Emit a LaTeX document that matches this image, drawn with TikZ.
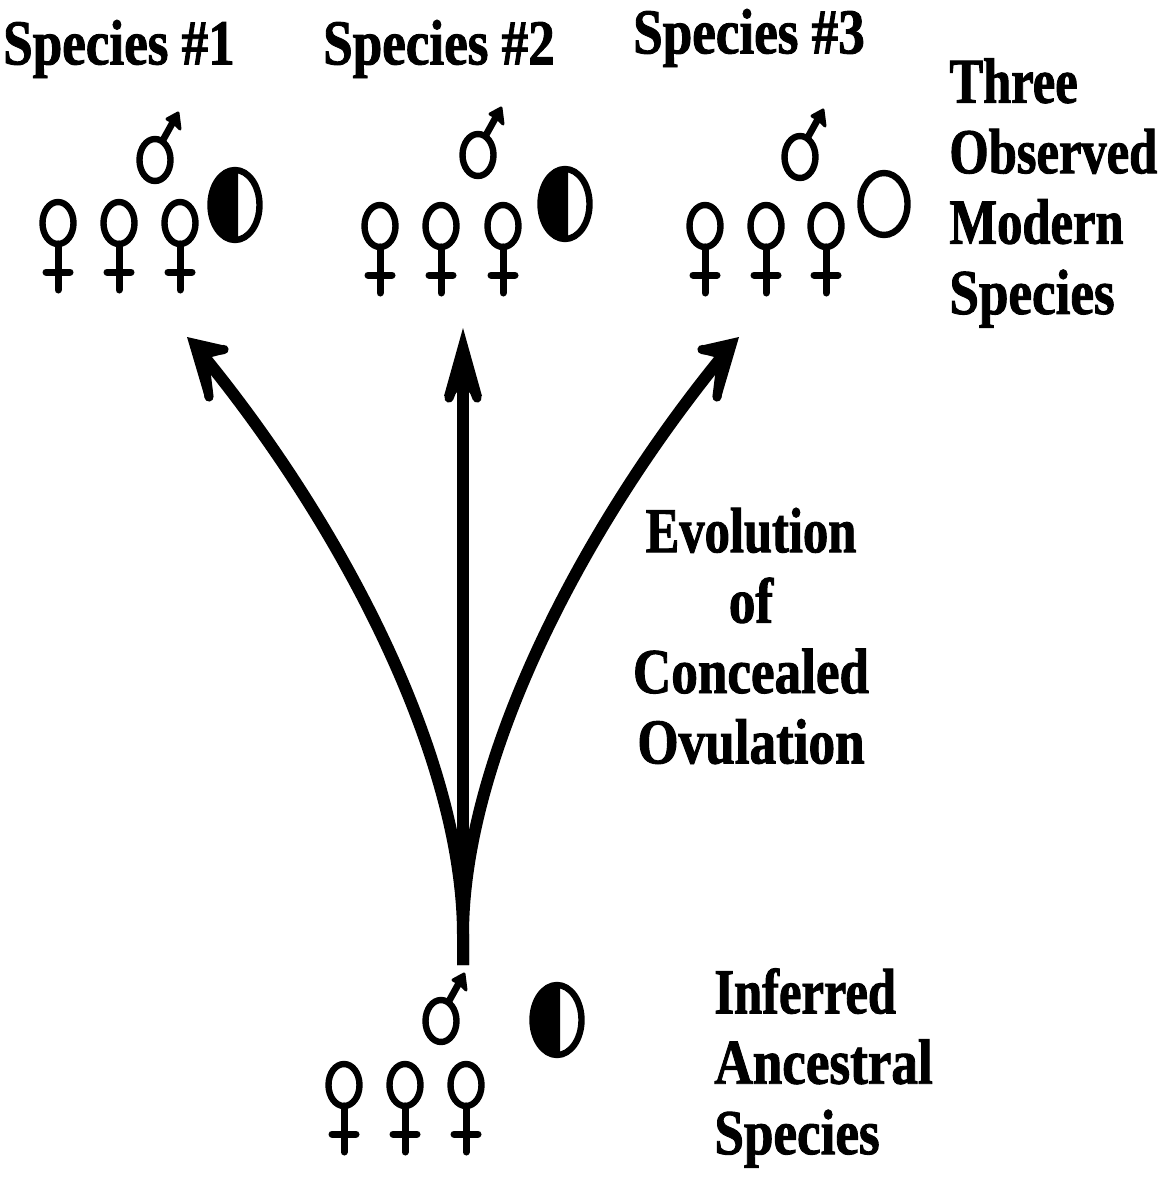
\documentclass[tikz,border=0pt]{standalone}
\usepackage{fontspec}
\setmainfont{Liberation Serif}
\newfontface\labfont[FakeStretch=0.83,FakeBold=1.4]{Liberation Serif Bold}
\newfontface\labnarrow[FakeStretch=0.79,FakeBold=1.4]{Liberation Serif Bold}
\tikzset{
  x=0.5pt,y=-0.5pt,
  lab/.style={font=\labfont\fontsize{32}{35.2}\selectfont,inner sep=0pt,text=black},
  shaft/.style={line width=6pt,draw=black},
  glyphring/.style={draw=black,line width=3.2pt},
  glyphbar/.style={draw=black,line width=3.5pt,line cap=round},
  barb/.style={fill=black,draw=black,line width=1.5pt,line join=round},
  headfill/.style={fill=black},
  headbarb/.style={draw=black,line width=4.6pt,line cap=round},
  pics/female/.style={code={
    \draw[glyphring] (0,0) ellipse [x radius=15.5,y radius=21];
    \draw[glyphbar] (0,21) -- (0,67);
    \draw[glyphbar] (-12,49) -- (12,49);
  }},
  pics/male/.style={code={
    \draw[glyphring] (0,0) ellipse [x radius=15.5,y radius=21];
    \draw[draw=black,line width=3.4pt] (8,-20) -- (18,-38);
    \fill[barb] (23,-47) -- (12,-41) -- (19,-37) -- (25,-31) -- cycle;
  }},
  pics/half/.style={code={
    \fill[white] (0,0) ellipse [x radius=25,y radius=35];
    \begin{scope}
      \clip (-40,-50) rectangle (3,50);
      \fill[black] (0,0) ellipse [x radius=25,y radius=35];
    \end{scope}
    \draw[glyphring] (0,0) ellipse [x radius=24.5,y radius=35];
  }},
  pics/open/.style={code={
    \draw[glyphring] (0,0) ellipse [x radius=23.5,y radius=31];
  }},
}
\newcommand{\nw}[1]{{\labnarrow\fontsize{32}{35.2}\selectfont #1}}
\begin{document}
\begin{tikzpicture}
\useasboundingbox[fill=white] (0,0) rectangle (1157,1178);
% labels
\node[lab] (s1) at (119,49) {Species \#1};
\node[lab] (s2) at (439,49) {Species \#2};
\node[lab] (s3) at (749,38) {Species \#3};
\node[lab,anchor=west,align=left] (mod) at (949,193) {\nw{Three}\\\nw{Observed}\\\nw{Modern}\\Species};
\node[lab,align=center] (evo) at (751,636) {\nw{Evolution}\\of\\Concealed\\Ovulation};
\node[lab,anchor=west,align=left] (anc) at (714,1068) {\nw{Inferred}\\Ancestral\\Species};
% species 1
\foreach \x in {58,119,180} \pic at (\x,223) {female};
\pic at (155,160) {male};
\pic at (235,205) {half};
% species 2
\foreach \x in {380,441,503} \pic at (\x,226) {female};
\pic at (478,155) {male};
\pic at (565,204) {half};
% species 3
\foreach \x in {705,766,826} \pic at (\x,226) {female};
\pic at (800,157) {male};
\pic at (884,204) {open};
% ancestor
\foreach \x in {344,405,466} \pic at (\x,1085) {female};
\pic at (441,1021) {male};
\pic at (557,1020) {half};
% connectors
\coordinate (base) at (463,965);
\coordinate (t1) at (205,358);
\coordinate (t2) at (463,350);
\coordinate (t3) at (721,358);
\draw[shaft] (base) -- (463,935) .. controls (463,760) and (345,530) .. (t1);
\draw[shaft] (base) -- (t2);
\draw[shaft] (base) -- (463,935) .. controls (463,760) and (581,530) .. (t3);
% arrowheads
\fill[headfill] (187,337) -- (222,345) -- (223,354) -- (208,358) -- (207,374) -- (213,397) -- (205,398) -- cycle;
\draw[headbarb] (206,352) -- (224,349.5);
\draw[headbarb] (204,356) -- (209,397);
\fill[headfill] (739,337) -- (704,345) -- (703,354) -- (718,358) -- (719,374) -- (713,397) -- (721,398) -- cycle;
\draw[headbarb] (720,352) -- (702,349.5);
\draw[headbarb] (722,356) -- (717,397);
\fill[headfill] (463,328) -- (482,396) -- (474,398) -- (469,392) -- (457,392) -- (452,398) -- (444,396) -- cycle;
\draw[headbarb] (463,362) -- (449,398);
\draw[headbarb] (463,362) -- (477,398);
\end{tikzpicture}
\end{document}
